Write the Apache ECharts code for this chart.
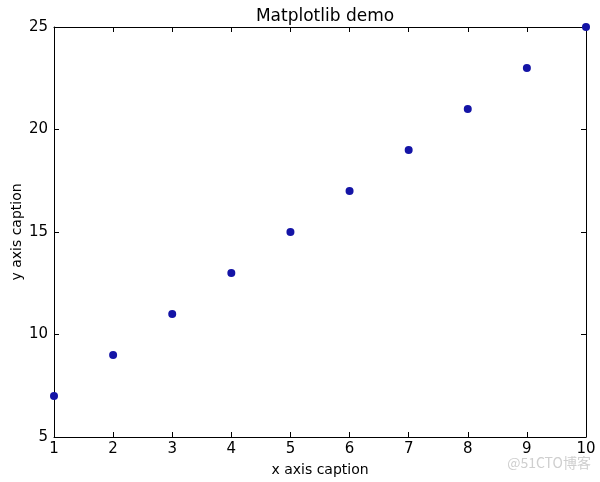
<!DOCTYPE html>
<html>
<head>
<meta charset="utf-8">
<script src="https://cdn.jsdelivr.net/npm/echarts@6/dist/echarts.min.js"></script>
<style>html,body{margin:0;padding:0;background:#fff;}#chart{width:600px;height:482px;}</style>
</head>
<body>
<div id="chart"></div>
<script>
const xValues = [1, 2, 3, 4, 5, 6, 7, 8, 9, 10];
const yValues = [7, 9, 11, 13, 15, 17, 19, 21, 23, 25];
const xTicks = [1, 2, 3, 4, 5, 6, 7, 8, 9, 10];
const yTicks = [5, 10, 15, 20, 25];
const titleText = 'Matplotlib demo';
const xCaption = 'x axis caption';
const yCaption = 'y axis caption';
const watermark = '@51CTO博客';

const font = 'DejaVu Sans';
const chart = echarts.init(document.getElementById('chart'), null, {renderer: 'canvas'});
const lineStyle = {color: '#000', width: 1};
const tickIn = {show: true, inside: true, length: 5, lineStyle: {color: '#000', width: 1}};
const option = {
  animation: false,
  backgroundColor: '#fff',
  title: {text: titleText, left: 320, top: 3, textAlign: 'center',
    textStyle: {fontFamily: font, fontSize: 17, fontWeight: 'normal', color: '#000'}},
  grid: {left: 54, right: 14, top: 27, bottom: 45, containLabel: false, outerBoundsMode: 'none'},
  graphic: [{type: 'text', right: 9, top: 456,
    style: {text: watermark, font: '14px "Noto Sans CJK SC", sans-serif', fill: '#cfcfcf'}}],
  xAxis: [{
    type: 'value', min: 1, max: 10, interval: 1, position: 'bottom',
    name: xCaption, nameLocation: 'middle', nameGap: 26, nameMoveOverlap: false,
    nameTextStyle: {fontFamily: font, fontSize: 14, color: '#000'},
    axisLine: {show: true, lineStyle: lineStyle}, axisTick: tickIn,
    axisLabel: {fontFamily: font, fontSize: 15, color: '#000', margin: 5,
      formatter: v => xTicks.includes(v) ? String(v) : ''},
    splitLine: {show: false}
  }, {
    type: 'value', min: 1, max: 10, interval: 1, position: 'top',
    axisLine: {show: true, lineStyle: lineStyle}, axisTick: tickIn,
    axisLabel: {show: false}, splitLine: {show: false}
  }],
  yAxis: [{
    type: 'value', min: 5, max: 25, interval: 5, position: 'left',
    name: yCaption, nameLocation: 'middle', nameGap: 30, nameRotate: 90, nameMoveOverlap: false,
    nameTextStyle: {fontFamily: font, fontSize: 14, color: '#000'},
    axisLine: {show: true, lineStyle: lineStyle}, axisTick: tickIn,
    axisLabel: {fontFamily: font, fontSize: 15, color: '#000', margin: 6,
      formatter: v => yTicks.includes(v) ? String(v) : ''},
    splitLine: {show: false}
  }, {
    type: 'value', min: 5, max: 25, interval: 5, position: 'right',
    axisLine: {show: true, lineStyle: lineStyle}, axisTick: tickIn,
    axisLabel: {show: false}, splitLine: {show: false}
  }],
  series: [{
    type: 'scatter', xAxisIndex: 0, yAxisIndex: 0, clip: true,
    symbol: 'circle', symbolSize: 8,
    itemStyle: {color: '#1414a6', opacity: 1},
    data: xValues.map((x, i) => [x, yValues[i]])
  }]
};
chart.setOption(option);
</script>
</body>
</html>
